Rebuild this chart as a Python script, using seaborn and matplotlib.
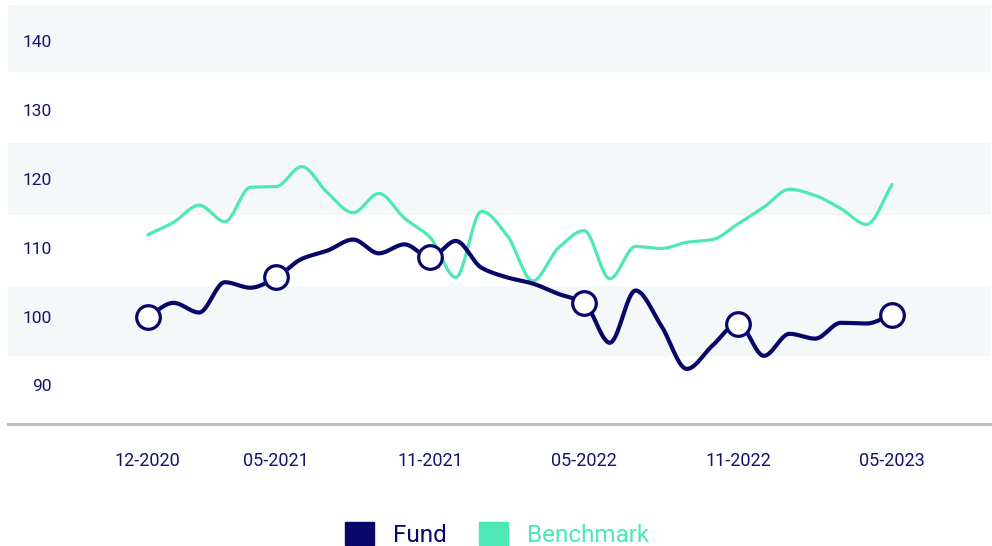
import numpy as np
import pandas as pd
import seaborn as sns
import matplotlib.pyplot as plt
from matplotlib.patches import Patch

# monthly values, 12-2020 .. 05-2023 (index rebased to 100)
months = pd.period_range("2020-12", "2023-05", freq="M").strftime("%m-%Y").tolist()
fund = [100.0, 102.0, 100.6, 105.0, 104.2, 105.7, 108.4, 109.6, 111.2, 109.2,
        110.5, 108.6, 111.0, 107.1, 105.7, 104.8, 103.3, 102.0, 96.2, 103.8,
        98.7, 92.4, 95.8, 99.0, 94.3, 97.5, 96.8, 99.1, 99.0, 100.3]
benchmark = [111.9, 113.7, 116.2, 113.8, 118.8, 118.9, 121.8, 118.0, 115.1, 117.9,
             114.3, 111.5, 105.7, 115.3, 111.8, 105.2, 110.0, 112.5, 105.5, 110.2,
             109.9, 110.8, 111.2, 113.5, 115.9, 118.5, 117.6, 115.7, 113.4, 119.2]
tick_months = ["12-2020", "05-2021", "11-2021", "05-2022", "11-2022", "05-2023"]
y_ticks = [90, 100, 110, 120, 130, 140]
band_edges = [145.3, 135.5, 125.2, 114.7, 104.5, 94.3, 84.4]

NAVY = "#07076a"
MINT = "#4de8b6"
TEXT = "#13136e"


def monotone(x, y, n=20):
    # monotone cubic (Fritsch-Carlson), like d3 curveMonotoneX
    x = np.asarray(x, float)
    y = np.asarray(y, float)
    h = np.diff(x)
    d = np.diff(y) / h
    m = np.zeros_like(y)
    m[0], m[-1] = d[0], d[-1]
    for i in range(1, len(y) - 1):
        if d[i - 1] * d[i] > 0:
            m[i] = 3 * (h[i - 1] + h[i]) / ((2 * h[i] + h[i - 1]) / d[i - 1] + (h[i] + 2 * h[i - 1]) / d[i])
    xs, ys = [], []
    for i in range(len(h)):
        t = np.linspace(0, 1, n, endpoint=False)
        h00 = 2 * t**3 - 3 * t**2 + 1
        h10 = t**3 - 2 * t**2 + t
        h01 = -2 * t**3 + 3 * t**2
        h11 = t**3 - t**2
        xs.append(x[i] + t * h[i])
        ys.append(h00 * y[i] + h10 * h[i] * m[i] + h01 * y[i + 1] + h11 * h[i] * m[i + 1])
    xs.append([x[-1]])
    ys.append([y[-1]])
    return np.concatenate(xs), np.concatenate(ys)


idx = np.arange(len(months))
tick_idx = [months.index(t) for t in tick_months]

sns.set_theme(style="white")
plt.rcParams["font.family"] = ["Roboto", "DejaVu Sans"]

fig = plt.figure(figsize=(9.92, 5.46), dpi=100)
ax = fig.add_axes([0.008, 0.2235, 0.991, 0.7675])

for i in range(0, len(band_edges) - 1, 2):
    ax.axhspan(band_edges[i + 1], band_edges[i], color="#f5f8f9", lw=0, zorder=0)

bx, by = monotone(idx, benchmark)
fx, fy = monotone(idx, fund)
sns.lineplot(x=bx, y=by, ax=ax, color=MINT, lw=2.3, sort=False, estimator=None, zorder=2)
sns.lineplot(x=fx, y=fy, ax=ax, color=NAVY, lw=3.0, sort=False, estimator=None, zorder=3)
ax.plot(tick_idx, [fund[i] for i in tick_idx], "o", ms=17, mfc="white", mec=NAVY,
        mew=2.3, zorder=4)

ax.set_xlim(-5.45, 32.85)
ax.set_ylim(band_edges[-1], band_edges[0])
ax.set_xticks(tick_idx, tick_months)
ax.set_yticks(y_ticks)
ax.tick_params(axis="x", length=0, pad=20, labelsize=13, labelcolor=TEXT)
ax.tick_params(axis="y", length=0, pad=-31.5, labelsize=12.5, labelcolor=TEXT)
for s in ["top", "left", "right"]:
    ax.spines[s].set_visible(False)
ax.spines["bottom"].set_color("#bfbfbf")
ax.spines["bottom"].set_linewidth(2.2)
ax.grid(False)

handles = [Patch(color=NAVY), Patch(color=MINT)]
leg = fig.legend(handles, ["Fund", "Benchmark"], loc="lower center", ncol=2,
                 frameon=False, fontsize=17.5, handlelength=1.2, handleheight=1.1,
                 handletextpad=0.8, columnspacing=1.3, bbox_to_anchor=(0.501, -0.042))
for t, c in zip(leg.get_texts(), [NAVY, MINT]):
    t.set_color(c)

fig.savefig("out.png", dpi=100)
